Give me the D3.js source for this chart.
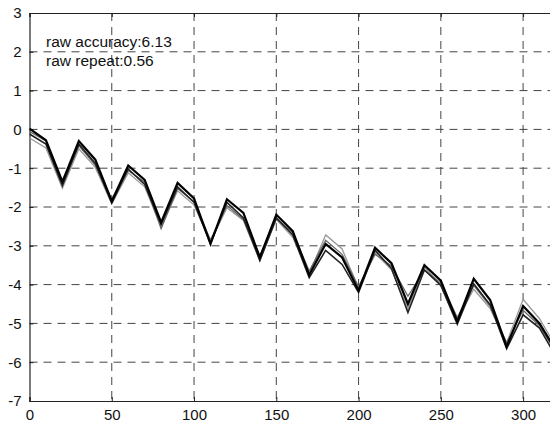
<!DOCTYPE html>
<html>
<head>
<meta charset="utf-8">
<script src="https://cdn.jsdelivr.net/npm/d3@7"></script>
<style>
  body { margin: 0; background: #fff; }
  svg { display: block; font-family: "Liberation Sans", Arial, sans-serif; }
</style>
</head>
<body>
<svg id="chart" width="550" height="422"></svg>
<script>
// sample positions along x
const xs = d3.range(0, 321, 10);

// four overlaid runs
const runA = [0.02, -0.28, -1.35, -0.3, -0.78, -1.85, -0.93, -1.3, -2.4, -1.38, -1.78, -2.95, -1.8, -2.15, -3.3, -2.2, -2.62,
  -3.75, -2.95, -3.3, -4.15, -3.05, -3.45, -4.5, -3.5, -3.9, -4.95, -3.85, -4.4, -5.6, -4.55, -5.0, -5.7];
const runB = [-0.12, -0.38, -1.45, -0.38, -0.88, -1.9, -1.02, -1.42, -2.45, -1.48, -1.88, -2.95, -1.88, -2.28, -3.38, -2.28, -2.72,
  -3.82, -3.12, -3.48, -4.2, -3.12, -3.58, -4.72, -3.62, -4.02, -5.02, -3.98, -4.52, -5.65, -4.78, -5.12, -5.85];
const runC = [-0.22, -0.48, -1.52, -0.5, -0.98, -1.92, -1.12, -1.48, -2.52, -1.58, -1.95, -2.9, -2.02, -2.35, -3.38, -2.32, -2.78,
  -3.72, -2.72, -3.08, -4.1, -3.18, -3.62, -4.62, -3.55, -4.02, -4.9, -4.12, -4.62, -5.5, -4.38, -4.88, -5.6];
const runD = [-0.05, -0.3, -1.4, -0.42, -0.92, -1.8, -1.06, -1.36, -2.56, -1.52, -1.86, -2.85, -1.96, -2.32, -3.25, -2.3, -2.66,
  -3.65, -2.86, -3.22, -4.05, -3.22, -3.52, -4.3, -3.62, -3.96, -4.85, -4.02, -4.56, -5.5, -4.66, -5.06, -5.75];

const xTicks = [0, 50, 100, 150, 200, 250, 300];
const yTicks = [-7, -6, -5, -4, -3, -2, -1, 0, 1, 2, 3];
const notes = ['raw accuracy:6.13', 'raw repeat:0.56'];

const svg = d3.select('#chart');
const x = d3.scaleLinear().domain([0, 320]).range([29.5, 556]);
const y = d3.scaleLinear().domain([-7, 3]).range([401, 13]);

svg.append('rect').attr('width', 550).attr('height', 422).attr('fill', '#fff');

svg.append('clipPath').attr('id', 'plot-clip')
  .append('rect')
  .attr('x', x(0)).attr('y', y(3))
  .attr('width', x(320) - x(0)).attr('height', y(-7) - y(3));

// dashed grid
const grid = svg.append('g').attr('stroke', '#444').attr('stroke-width', 1).attr('stroke-dasharray', '8,6');
grid.selectAll('.vg').data(xTicks.filter(d => d > 0)).enter().append('line')
  .attr('x1', d => x(d)).attr('x2', d => x(d))
  .attr('y1', y(3)).attr('y2', y(-7));
grid.selectAll('.hg').data(yTicks.filter(d => d > -7 && d < 3)).enter().append('line')
  .attr('x1', x(0)).attr('x2', x(320))
  .attr('y1', d => y(d)).attr('y2', d => y(d));

// axes
const fmt = d => String(d).replace('\u2212', '-');
svg.append('g')
  .attr('transform', `translate(${x(0)},0)`)
  .call(d3.axisLeft(y).tickValues(yTicks).tickSize(-4).tickPadding(8).tickFormat(fmt));
svg.append('g')
  .attr('transform', `translate(0,${y(-7)})`)
  .call(d3.axisBottom(x).tickValues(xTicks).tickSize(-4).tickPadding(8).tickFormat(fmt));
svg.append('g')
  .attr('transform', `translate(0,${y(3)})`)
  .call(d3.axisTop(x).tickValues(xTicks).tickSize(-4).tickFormat(''));

svg.selectAll('.domain').attr('stroke', '#222').attr('stroke-width', 1.2);
svg.selectAll('.tick line').attr('stroke', '#222');
svg.selectAll('.tick text').attr('fill', '#111').style('font-size', '15px');

// runs
const line = d3.line().x((d, i) => x(xs[i])).y(d => y(d));
const runs = [
  { v: runC, c: '#9a9a9a', w: 1.3 },
  { v: runD, c: '#666', w: 1.3 },
  { v: runB, c: '#222', w: 1.6 },
  { v: runA, c: '#000', w: 2.2 }
];
svg.append('g').attr('clip-path', 'url(#plot-clip)')
  .selectAll('path').data(runs).enter().append('path')
  .attr('fill', 'none')
  .attr('stroke', d => d.c)
  .attr('stroke-width', d => d.w)
  .attr('stroke-linejoin', 'miter')
  .attr('d', d => line(d.v));

// annotation
svg.append('g').selectAll('text').data(notes).enter().append('text')
  .attr('x', 46)
  .attr('y', (d, i) => 47 + i * 19)
  .attr('fill', '#111')
  .style('font-size', '15.5px')
  .text(d => d);
</script>
</body>
</html>
